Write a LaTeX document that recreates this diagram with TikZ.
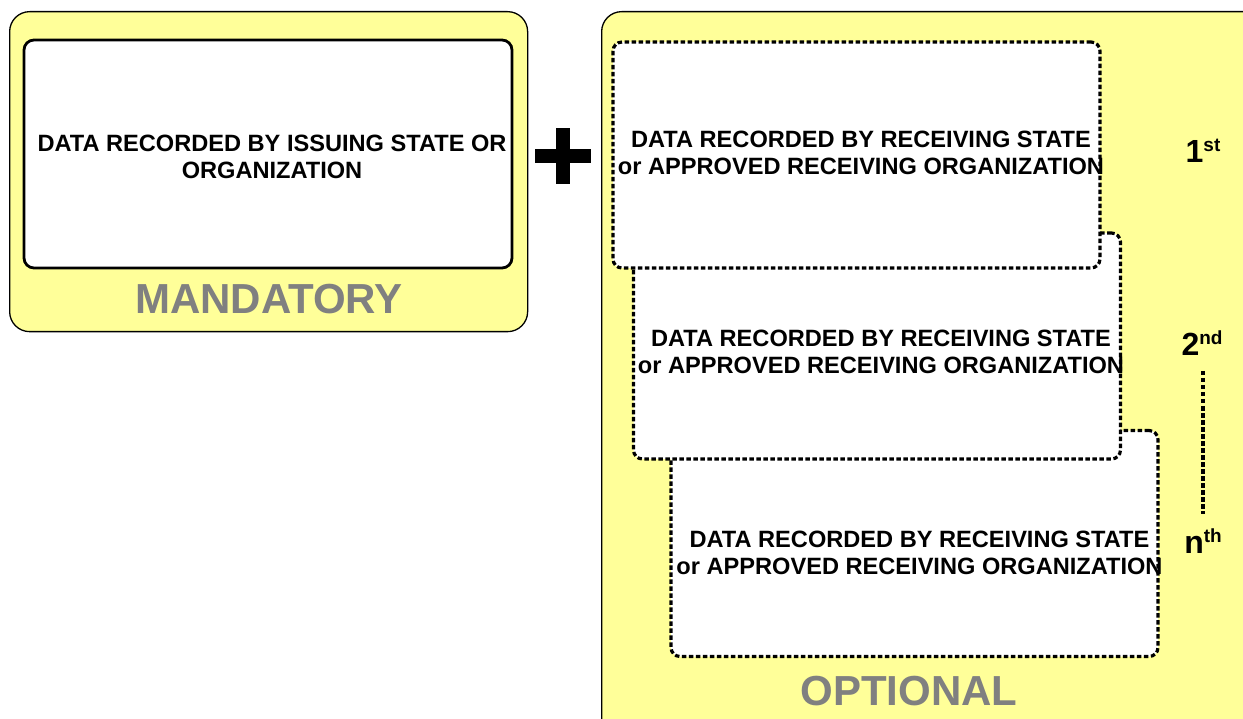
\documentclass[tikz,border=0pt]{standalone}
\usepackage{fontspec}
\setmainfont{Liberation Sans}
\definecolor{panelyellow}{HTML}{FFFF99}
\definecolor{labelgray}{HTML}{808080}
\tikzset{
  panelbox/.style={draw=black, line width=1.3pt, fill=panelyellow, rounded corners=20pt, inner sep=0pt},
  solidbox/.style={draw=black, line width=2.8pt, fill=white, rounded corners=10pt, inner sep=0pt, minimum width=488pt, minimum height=228pt},
  dashbox/.style={draw=black, line width=3.2pt, fill=white, rounded corners=9pt, dash pattern=on 4.5pt off 2.5pt, inner sep=0pt, minimum width=487pt, minimum height=226pt},
  boxtext/.style={font=\bfseries\fontsize{23.6}{27.5}\selectfont, align=center, inner sep=0pt},
  biglabel/.style={font=\bfseries\fontsize{42}{42}\selectfont, text=labelgray, inner sep=0pt},
  ordinal/.style={font=\bfseries\fontsize{32}{32}\selectfont, inner sep=0pt, anchor=base},
  dashline/.style={draw=black, line width=3.2pt, dash pattern=on 4.5pt off 2.5pt},
}
\newcommand{\ordsup}[1]{\raisebox{11pt}{\fontsize{19}{19}\selectfont #1}}
\begin{document}
\begin{tikzpicture}[x=1pt,y=-1pt]
\useasboundingbox (0,0) rectangle (1243,719);
\clip (0,0) rectangle (1243,719);
% panels
\node[panelbox, minimum width=518pt, minimum height=320pt, anchor=north west] (mandpanel) at (9,11) {};
\node[panelbox, minimum width=680pt, minimum height=760pt, anchor=north west] (optpanel) at (601,11) {};
% mandatory box
\node[solidbox] (issuebox) at (268,154) {};
\node[boxtext] (issuetext) at (272,157) {DATA RECORDED BY ISSUING STATE OR\\ORGANIZATION};
\node[biglabel] (mandlabel) at (269,299) {MANDATORY};
% plus sign
\fill[black] (535,149) rectangle (591,163);
\fill[black] (556,128) rectangle (570,184);
% optional boxes (back to front)
\node[dashbox] (recv3) at (914.5,543.5) {};
\node[dashbox] (recv2) at (877,346) {};
\node[dashbox] (recv1) at (856.5,155) {};
\node[boxtext] (recvtext1) at (861,153) {DATA RECORDED BY RECEIVING STATE\\or APPROVED RECEIVING ORGANIZATION};
\node[boxtext] (recvtext2) at (881,352) {DATA RECORDED BY RECEIVING STATE\\or APPROVED RECEIVING ORGANIZATION};
\node[boxtext] (recvtext3) at (919.5,553) {DATA RECORDED BY RECEIVING STATE\\or APPROVED RECEIVING ORGANIZATION};
\node[biglabel] (optlabel) at (909,691) {OPTIONAL};
% ordinals
\node[ordinal] (first) at (1203,163) {1\ordsup{st}};
\node[ordinal] (second) at (1202,356) {2\ordsup{nd}};
\node[ordinal] (nth) at (1203,553) {n\ordsup{th}};
\coordinate (seqtop) at (1203,371);
\coordinate (seqbot) at (1203,514);
\draw[dashline] (seqtop) -- (seqbot);
\end{tikzpicture}
\end{document}
